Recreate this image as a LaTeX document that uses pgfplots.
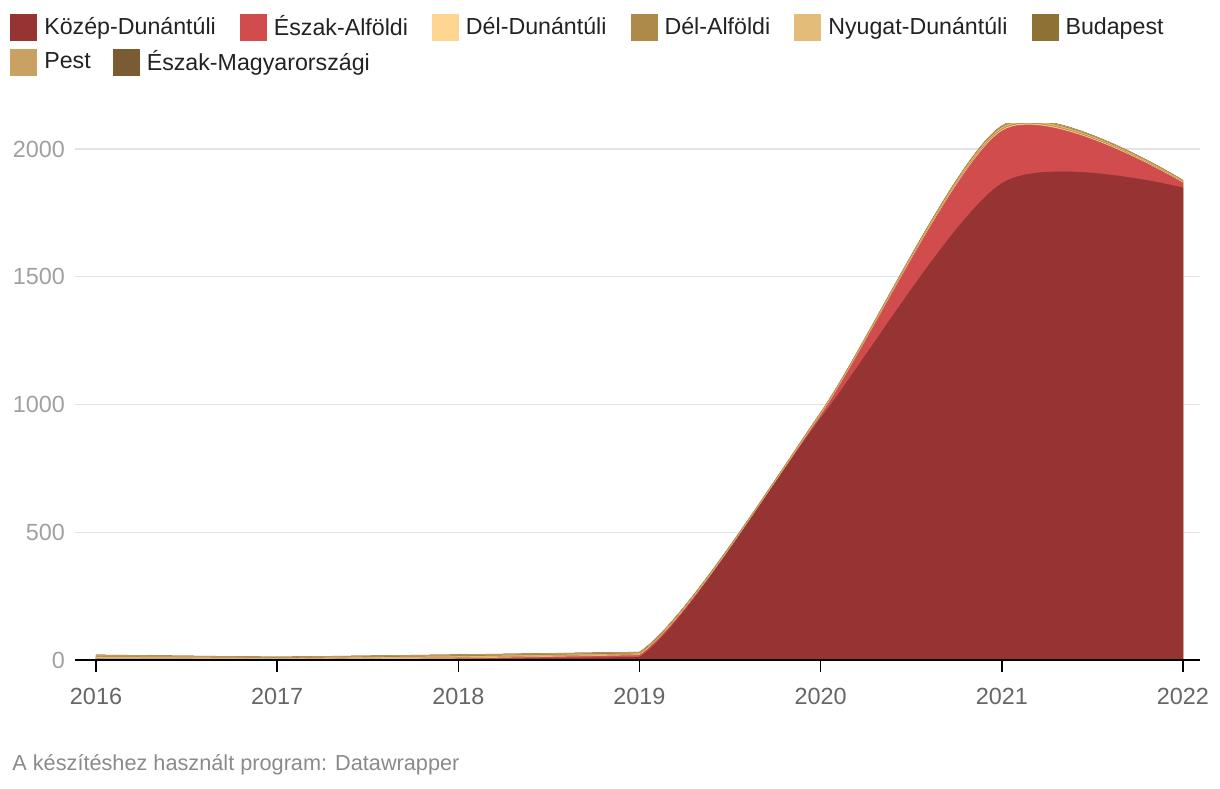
\documentclass[border=0pt]{standalone}
\usepackage{fontspec}
\setmainfont{Liberation Sans}
\usepackage{pgfplots}
\usepackage{pgfplotstable}
\pgfplotsset{compat=1.18}

\definecolor{KD}{HTML}{963333}
\definecolor{EA}{HTML}{D14C4C}
\definecolor{DD}{HTML}{FFD592}
\definecolor{DA}{HTML}{AD8A48}
\definecolor{ND}{HTML}{E3BC7A}
\definecolor{BP}{HTML}{8E7135}
\definecolor{PE}{HTML}{C9A263}
\definecolor{EM}{HTML}{7B5B33}
\definecolor{gridc}{HTML}{E3E3E3}
\definecolor{ylab}{HTML}{A0A0A0}
\definecolor{xlab}{HTML}{666666}
\definecolor{foot}{HTML}{8A8A8A}
\definecolor{legt}{HTML}{222222}

% yearly values, 2016-2019 part and 2018-2022 part
\pgfplotstableread{
year KD   EA  DD DA ND BP PE EM
2016 0    0   3  2  7  1  6  1
2017 0    0   2  1  4  1  3  1
2018 2    3   2  2  5  2  4  1
2019 10   8   2  2  3  2  3  1
}\dataA
\pgfplotstableread{
year KD   EA  DD DA ND BP PE EM
2018 2    3   2  2  5  2  4  1
2019 10   8   2  2  3  2  3  1
2020 945  12  2  2  3  1  3  1
2021 1865 205 4  4  6  2  4  1
2022 1848 19  2  2  3  1  2  1
}\dataB

% one cumulative level: smooth part from 2018 on, straight part up to 2019 drawn over it
\newcommand{\lvl}[2]{%
  \addplot[fill=#1,draw=#1,line width=0.25pt,smooth,tension=0.45,forget plot]
    table[x=year,y expr={#2}]{\dataB}\closedcycle;
  \addplot[fill=#1,draw=#1,line width=0.25pt,sharp plot,forget plot]
    table[x=year,y expr={#2}]{\dataA}\closedcycle;
}

\begin{document}
\begin{tikzpicture}
\useasboundingbox (-37.5pt,-64pt) rectangle (572.5pt,330pt);
\begin{axis}[
  at={(0,0)}, anchor=south west, scale only axis,
  width=562.5pt, height=268.25pt,
  xmin=2015.884, xmax=2022.094, ymin=0, ymax=2100,
  xtick={2016,2017,2018,2019,2020,2021,2022},
  ytick={0,500,1000,1500,2000},
  axis on top,
  axis lines*=left,
  y axis line style={draw=none},
  x axis line style={black, line width=1pt},
  tick align=outside, major tick length=6pt,
  xtick style={black, line width=0.8pt},
  ytick style={draw=none},
  xticklabel style={text=xlab, font=\fontsize{11.7}{14}\selectfont, yshift=-4.5pt},
  yticklabel style={text=ylab, font=\fontsize{11.7}{14}\selectfont, xshift=4.5pt},
  /pgf/number format/1000 sep={},
  /pgf/number format/assume math mode=true,
  legend columns=6,
  legend image code/.code={\path[#1,draw=none] (0pt,-6.75pt) rectangle (13.5pt,6.75pt);},
  legend style={draw=none, fill=none, inner sep=0pt,
    at={(axis description cs:-0.0578,1.205)}, anchor=north west,
    font=\fontsize{11.6}{14}\selectfont, text=legt,
    nodes={inner sep=0pt},
    /tikz/every odd column/.append style={column sep=3.5pt},
    /tikz/every even column/.append style={column sep=12pt}},
  legend cell align=left,
]
% horizontal grid lines behind the areas
\addplot[gridc, line width=0.6pt, forget plot] coordinates {(2015.884,500) (2022.094,500)};
\addplot[gridc, line width=0.6pt, forget plot] coordinates {(2015.884,1000) (2022.094,1000)};
\addplot[gridc, line width=0.6pt, forget plot] coordinates {(2015.884,1500) (2022.094,1500)};
\addplot[gridc, line width=0.6pt, forget plot] coordinates {(2015.884,2000) (2022.094,2000)};
\lvl{EM}{\thisrow{KD}+\thisrow{EA}+\thisrow{DD}+\thisrow{DA}+\thisrow{ND}+\thisrow{BP}+\thisrow{PE}+\thisrow{EM}}
\lvl{PE}{\thisrow{KD}+\thisrow{EA}+\thisrow{DD}+\thisrow{DA}+\thisrow{ND}+\thisrow{BP}+\thisrow{PE}}
\lvl{BP}{\thisrow{KD}+\thisrow{EA}+\thisrow{DD}+\thisrow{DA}+\thisrow{ND}+\thisrow{BP}}
\lvl{ND}{\thisrow{KD}+\thisrow{EA}+\thisrow{DD}+\thisrow{DA}+\thisrow{ND}}
\lvl{DA}{\thisrow{KD}+\thisrow{EA}+\thisrow{DD}+\thisrow{DA}}
\lvl{DD}{\thisrow{KD}+\thisrow{EA}+\thisrow{DD}}
\lvl{EA}{\thisrow{KD}+\thisrow{EA}}
\lvl{KD}{\thisrow{KD}}
\addlegendimage{fill=KD}\addlegendentry{Közép-Dunántúli}
\addlegendimage{fill=EA}\addlegendentry{Észak-Alföldi}
\addlegendimage{fill=DD}\addlegendentry{Dél-Dunántúli}
\addlegendimage{fill=DA}\addlegendentry{Dél-Alföldi}
\addlegendimage{fill=ND}\addlegendentry{Nyugat-Dunántúli}
\addlegendimage{fill=BP}\addlegendentry{Budapest}
\end{axis}
\begin{axis}[
  at={(0,0)}, anchor=south west, scale only axis,
  width=562.5pt, height=268.25pt, hide axis,
  xmin=0, xmax=1, ymin=0, ymax=1,
  legend columns=2,
  legend image code/.code={\path[#1,draw=none] (0pt,-6.75pt) rectangle (13.5pt,6.75pt);},
  legend style={draw=none, fill=none, inner sep=0pt,
    at={(axis description cs:-0.0578,1.140)}, anchor=north west,
    font=\fontsize{11.6}{14}\selectfont, text=legt,
    nodes={inner sep=0pt},
    /tikz/every odd column/.append style={column sep=3.5pt},
    /tikz/every even column/.append style={column sep=11pt}},
  legend cell align=left,
]
\addplot[draw=none, forget plot] coordinates {(0,0) (1,1)};
\addlegendimage{fill=PE}\addlegendentry{Pest}
\addlegendimage{fill=EM}\addlegendentry{Észak-Magyarországi}
\end{axis}
\node[anchor=west, text=foot, font=\fontsize{10.85}{13}\selectfont, inner sep=0pt] at (-31.5pt,-52.5pt) {A készítéshez használt program: Datawrapper};
\end{tikzpicture}
\end{document}
